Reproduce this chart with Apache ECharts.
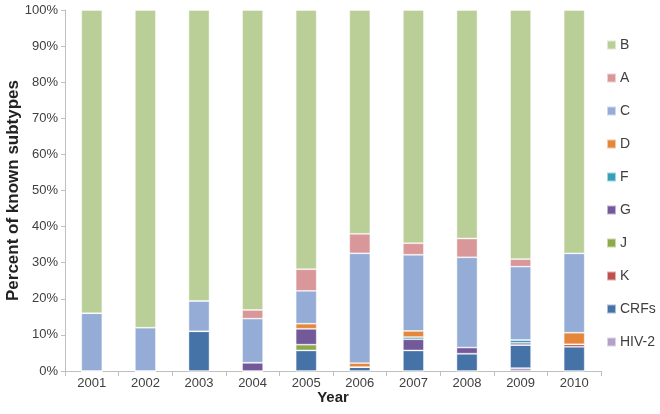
<!DOCTYPE html>
<html><head><meta charset="utf-8">
<script src="https://cdn.jsdelivr.net/npm/echarts@6/dist/echarts.min.js"></script>
<style>html,body{margin:0;padding:0;background:#fff}#c{width:660px;height:414px}</style>
</head><body><div id="c"></div>
<script>
const years = ['2001','2002','2003','2004','2005','2006','2007','2008','2009','2010'];
const HIV2 = [0,0,0,0,0,0,0,0,0.8,0];
const CRFs = [0,0,11,0,5.7,1.1,5.7,4.8,6.4,6.7];
const K    = [0,0,0,0,0,0,0,0,0,0.7];
const J    = [0,0,0,0,1.6,0,0,0,0,0];
const G    = [0,0,0,2.3,4.4,0,3.1,1.7,0.6,0];
const F    = [0,0,0,0,0,0,0.6,0,0.8,0];
const D    = [0,0,0,0,1.4,1.1,1.7,0,0,3.2];
const C    = [16,12,8.4,12.2,9.1,30.4,21.1,25.0,20.3,22.0];
const A    = [0,0,0,2.4,6.0,5.4,3.2,5.2,2.1,0];
const B    = [84,88,80.6,83.1,71.8,62.0,64.6,63.3,69.0,67.4];
const yTicks = [0,10,20,30,40,50,60,70,80,90,100];

const seriesDefs = [
  ['HIV-2', HIV2, '#B3A2C7'],
  ['CRFs', CRFs, '#4572A7'],
  ['K', K, '#C0504D'],
  ['J', J, '#8DAA4B'],
  ['G', G, '#73589A'],
  ['F', F, '#35A0B8'],
  ['D', D, '#E5873B'],
  ['C', C, '#95ACD6'],
  ['A', A, '#D9979A'],
  ['B', B, '#B9CF97']
];
const chart = echarts.init(document.getElementById('c'));
chart.setOption({
  animation: false,
  textStyle: {fontFamily: 'Liberation Sans, Arial, sans-serif'},
  grid: {left: 65, right: 59, top: 10, bottom: 43, containLabel: false, outerBoundsMode: 'none'},
  legend: {
    orient: 'vertical', left: 601, top: 33,
    itemWidth: 9, itemHeight: 9, itemGap: 19,
    icon: 'rect',
    textStyle: {fontSize: 14, color: '#404040', padding: [0,0,0,-1]},
    data: ['B','A','C','D','F','G','J','K','CRFs','HIV-2']
  },
  xAxis: {
    type: 'category', data: years,
    name: 'Year', nameLocation: 'middle', nameGap: 19, nameMoveOverlap: false,
    nameTextStyle: {fontSize: 15, fontWeight: 'bold', color: '#222'},
    axisLine: {lineStyle: {color: '#BFBFBF'}},
    axisTick: {show: true, length: 5, lineStyle: {color: '#BFBFBF'}},
    axisLabel: {fontSize: 13, color: '#404040', margin: 6}
  },
  yAxis: {
    type: 'value', min: 0, max: 100, interval: 10,
    name: 'Percent of known subtypes', nameLocation: 'middle', nameGap: 43, nameMoveOverlap: false,
    nameTextStyle: {fontSize: 17, fontWeight: 'bold', color: '#222'},
    axisLine: {show: true, lineStyle: {color: '#BFBFBF'}},
    axisTick: {show: true, length: 4, lineStyle: {color: '#BFBFBF'}},
    splitLine: {show: false},
    axisLabel: {fontSize: 13, color: '#404040', margin: 7, formatter: v => yTicks.includes(v) ? v + '%' : ''}
  },
  series: seriesDefs.map(([name, data, color]) => ({
    name, type: 'bar', stack: 'all', data, barWidth: 21,
    itemStyle: {color, borderColor: 'rgba(255,255,255,0.55)', borderWidth: 0.8}
  }))
});
</script></body></html>
